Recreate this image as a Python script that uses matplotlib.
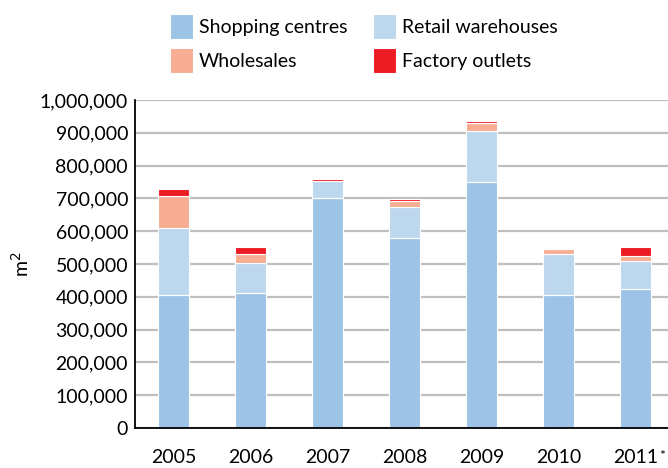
import numpy as np
import matplotlib.pyplot as plt
from matplotlib.ticker import FuncFormatter

plt.rcParams['font.family'] = ['Lato', 'DejaVu Sans']

years = ['2005', '2006', '2007', '2008', '2009', '2010', '2011']
shopping = [405000, 412000, 700000, 580000, 751000, 404000, 424000]
retail = [205000, 91000, 52000, 94000, 156000, 127000, 84000]
wholesale = [98000, 29000, 1500, 19000, 22000, 14000, 15000]
factory = [22000, 21000, 7000, 4000, 6000, 0, 28000]

series = [
    ('Shopping centres', shopping, '#9DC3E6'),
    ('Retail warehouses', retail, '#BDD7EE'),
    ('Wholesales', wholesale, '#F8AD93'),
    ('Factory outlets', factory, '#ED1C24'),
]

fig = plt.figure(figsize=(6.68, 4.68), dpi=100)
ax = fig.add_axes([135 / 668, 40 / 468, 539 / 668, 328 / 468])

x = np.arange(len(years))
bottom = np.zeros(len(years))
handles = []
for name, vals, col in series:
    b = ax.bar(x, vals, width=0.41, bottom=bottom, color=col,
               edgecolor='white', linewidth=0.8, label=name, zorder=3)
    bottom += np.array(vals)
    handles.append(b)

ax.set_xlim(-0.5, 6.5)
ax.set_ylim(0, 1000000)
ax.set_yticks(np.arange(0, 1000001, 100000))
ax.yaxis.set_major_formatter(FuncFormatter(lambda v, p: f'{int(v):,}'))
ax.set_xticks(x)
ax.set_xticklabels(years)
ax.grid(axis='y', color='#BFBFBF', linewidth=1.6, zorder=0)
ax.set_axisbelow(True)

# asterisk on the last year (provisional)
ax.annotate('*', xy=(6, 0), xycoords=('data', 'axes fraction'),
            xytext=(17, -23), textcoords='offset points',
            fontsize=10, ha='left', va='baseline')

for side in ['top', 'right']:
    ax.spines[side].set_visible(False)
for side in ['left', 'bottom']:
    ax.spines[side].set_color('black')
    ax.spines[side].set_linewidth(1.3)
    ax.spines[side].set_zorder(4)

ax.tick_params(axis='y', length=0, pad=5, labelsize=14)
ax.tick_params(axis='x', length=0, pad=15, labelsize=14)
ax.set_ylabel('m$^2$', fontsize=14, labelpad=6)

# row-wise order: matplotlib fills legend columns first
order = [0, 2, 1, 3]
fig.legend(handles=[handles[i] for i in order],
           labels=[series[i][0] for i in order], ncol=2,
           loc='upper left', bbox_to_anchor=(162 / 668, 1 - 6 / 468),
           borderaxespad=0, frameon=False, fontsize=14,
           handlelength=1.18, handleheight=1.58,
           handletextpad=0.3, columnspacing=1.35, labelspacing=0.5)

fig.savefig('out.png', dpi=100, facecolor='white')
